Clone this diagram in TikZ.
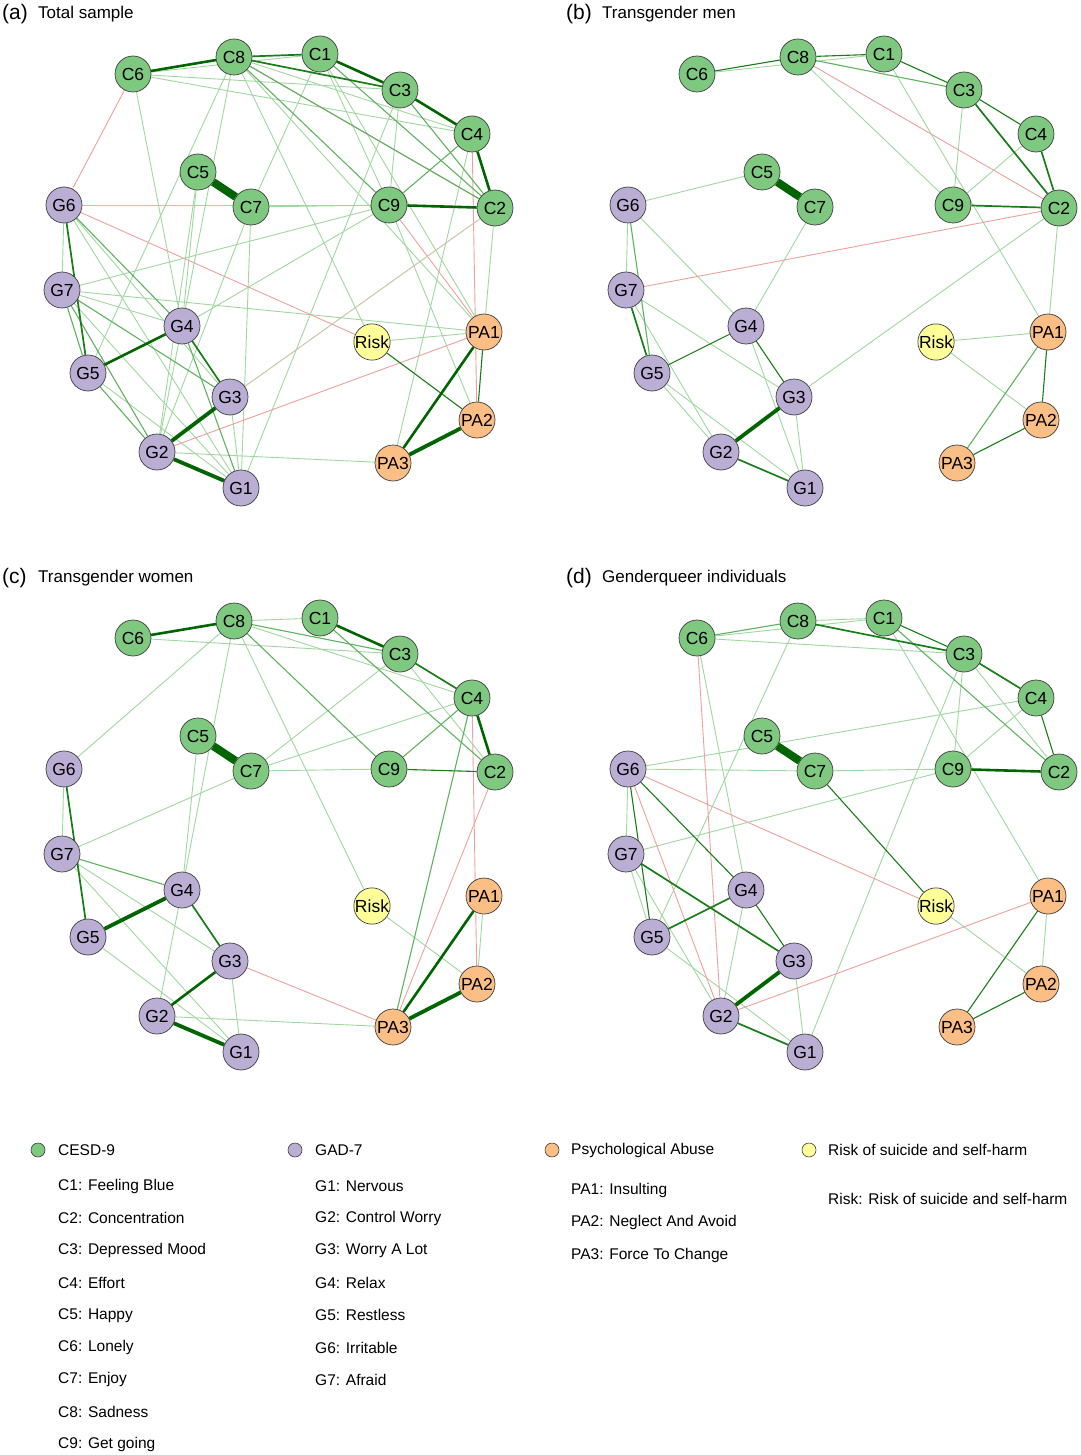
\documentclass[tikz,border=0pt]{standalone}
\usepackage{fontspec}
\setmainfont{Liberation Sans}
\usetikzlibrary{backgrounds}
\definecolor{ngreen}{RGB}{126,200,128}
\definecolor{npurple}{RGB}{187,174,212}
\definecolor{norange}{RGB}{251,190,133}
\definecolor{nyellow}{RGB}{255,255,153}
\definecolor{ebord}{RGB}{60,60,60}
\definecolor{elight}{RGB}{160,215,160}
\definecolor{emid}{RGB}{95,178,95}
\definecolor{edark}{RGB}{25,125,25}
\definecolor{edeep}{RGB}{0,100,0}
\definecolor{eneg}{RGB}{238,160,160}
\definecolor{emix}{RGB}{205,195,165}
\tikzset{
 nd/.style={circle, draw=ebord, line width=0.7pt, minimum size=36pt, inner sep=0pt, font=\fontsize{17.5}{17.5}\selectfont},
 cn/.style={nd, fill=ngreen}, gn/.style={nd, fill=npurple},
 pn/.style={nd, fill=norange}, rn/.style={nd, fill=nyellow},
 wa/.style={elight, line width=0.9pt},
 wb/.style={emid, line width=1.1pt},
 wbd/.style={edark, line width=1.1pt},
 wc/.style={edark, line width=1.7pt},
 wd/.style={edeep, line width=2.6pt},
 we/.style={edeep, line width=3.8pt},
 wf/.style={edeep, line width=8pt},
 ng/.style={eneg, line width=0.9pt},
 mx/.style={emix, line width=1pt},
 ttl/.style={anchor=west, inner sep=0pt, font=\fontsize{17}{17}\selectfont},
 tag/.style={anchor=west, inner sep=0pt, font=\fontsize{21}{21}\selectfont},
 lg/.style={anchor=west, inner sep=0pt, font=\fontsize{15.5}{15.5}\selectfont},
 ldot/.style={circle, draw=ebord, line width=0.6pt, minimum size=14pt, inner sep=0pt},
}
\newcommand\E[3]{\draw[#1] (#2) -- (#3);}
\newcommand\allnodes{%
 \node[cn] (C6) at (133,74) {C6};
 \node[cn] (C8) at (234,57) {C8};
 \node[cn] (C1) at (320,54) {C1};
 \node[cn] (C3) at (400,90) {C3};
 \node[cn] (C4) at (472,134) {C4};
 \node[cn] (C2) at (495,208) {C2};
 \node[cn] (C9) at (389,205) {C9};
 \node[cn] (C5) at (198,172) {C5};
 \node[cn] (C7) at (251,207) {C7};
 \node[gn] (G6) at (64,205) {G6};
 \node[gn] (G7) at (62,290) {G7};
 \node[gn] (G4) at (182,326) {G4};
 \node[gn] (G5) at (88,373) {G5};
 \node[gn] (G3) at (230,397) {G3};
 \node[gn] (G2) at (157,452) {G2};
 \node[gn] (G1) at (241,488) {G1};
 \node[rn] (Risk) at (372,342) {Risk};
 \node[pn] (PA1) at (484,332) {PA1};
 \node[pn] (PA2) at (477,420) {PA2};
 \node[pn] (PA3) at (393,463) {PA3};
}
\begin{document}
\begin{tikzpicture}[x=1pt,y=-1pt]
\useasboundingbox (0,0) rectangle (1080,1455);
% ---------------- panel a
\begin{scope}[name prefix=a-]
\node[tag] (tg) at (2,14) {(a)};
\node[ttl] (tt) at (38,14) {Total sample};
\allnodes
\begin{pgfonlayer}{background}
\E{wa}{C6}{C1}\E{wa}{C6}{C3}\E{wa}{C6}{C4}\E{wa}{C8}{C4}\E{wa}{C1}{C9}\E{wa}{C3}{C9}
\E{wa}{C7}{C9}\E{wa}{G6}{C9}\E{wa}{C1}{C7}\E{wa}{C6}{G4}\E{wa}{C8}{G4}\E{wa}{C8}{G5}
\E{wa}{C8}{Risk}\E{wa}{C5}{G4}\E{wa}{C5}{G2}\E{wa}{C7}{G2}\E{wa}{C7}{G1}\E{wa}{G7}{C9}
\E{wa}{G4}{C9}\E{wa}{C3}{G1}\E{wa}{G6}{G7}\E{wa}{G6}{G3}\E{wa}{G6}{G1}\E{wa}{G7}{G4}
\E{wa}{G7}{G1}\E{wa}{G7}{PA1}\E{wa}{G5}{G1}\E{wa}{G4}{G2}\E{wa}{G3}{G1}\E{wa}{G2}{PA3}
\E{wa}{Risk}{PA1}\E{wa}{C2}{PA1}\E{wa}{C9}{PA2}\E{wa}{C8}{PA1}\E{wa}{C1}{PA1}\E{wa}{C4}{PA3}
\E{ng}{C6}{G6}\E{ng}{C8}{C2}\E{ng}{G6}{Risk}\E{ng}{G2}{PA1}\E{ng}{C9}{PA1}\E{ng}{C4}{PA2}
\E{mx}{G3}{C2}
\E{wb}{C9}{C4}\E{wb}{C8}{C9}\E{wb}{C8}{C2}\E{wb}{C1}{C2}\E{wb}{C3}{C2}\E{wb}{G6}{G4}
\E{wb}{G7}{G5}\E{wb}{G7}{G3}\E{wb}{G7}{G2}\E{wb}{G5}{G2}\E{wb}{G4}{G1}\E{wbd}{Risk}{PA2}
\E{wbd}{PA1}{PA2}
\E{wc}{C8}{C3}\E{wc}{C8}{C1}\E{wc}{G6}{G5}\E{wc}{G4}{G3}
\E{wd}{C6}{C8}\E{wd}{C3}{C4}\E{wd}{C4}{C2}\E{wd}{C9}{C2}\E{wd}{G4}{G5}\E{wd}{PA1}{PA3}
\E{wd}{C1}{C3}
\E{we}{G3}{G2}\E{we}{G2}{G1}\E{we}{PA2}{PA3}
\E{wf}{C5}{C7}
\end{pgfonlayer}
\end{scope}
% ---------------- panel b
\begin{scope}[shift={(564,0)}, name prefix=b-]
\node[tag] (tg) at (2,14) {(b)};
\node[ttl] (tt) at (38,14) {Transgender men};
\allnodes
\begin{pgfonlayer}{background}
\E{wa}{C6}{C1}\E{wa}{C8}{C9}\E{wa}{C3}{C9}\E{wa}{C4}{C9}\E{wa}{C1}{PA1}\E{wa}{C2}{PA1}
\E{wa}{C2}{G3}\E{wa}{C5}{G6}\E{wa}{C7}{G4}\E{wa}{G6}{G7}\E{wa}{G6}{G4}\E{wa}{G7}{G2}
\E{wa}{G7}{G3}\E{wa}{G5}{G2}\E{wa}{G5}{G1}\E{wa}{G4}{G1}\E{wa}{G3}{G1}\E{wa}{Risk}{PA1}
\E{wa}{Risk}{PA2}
\E{ng}{C8}{C2}\E{ng}{C2}{G7}
\E{wb}{C8}{C3}\E{wb}{PA1}{PA3}\E{wb}{G6}{G5}
\E{wbd}{C6}{C8}\E{wbd}{C8}{C1}\E{wbd}{C1}{C3}\E{wbd}{C3}{C4}\E{wbd}{G5}{G4}\E{wbd}{G4}{G3}
\E{wbd}{PA2}{PA3}\E{wbd}{PA1}{PA2}
\E{wc}{C3}{C2}\E{wc}{C4}{C2}\E{wc}{C9}{C2}\E{wc}{G7}{G5}\E{wc}{G2}{G1}
\E{we}{G3}{G2}
\E{wf}{C5}{C7}
\end{pgfonlayer}
\end{scope}
% ---------------- panel c
\begin{scope}[shift={(0,564)}, name prefix=c-]
\node[tag] (tg) at (2,14) {(c)};
\node[ttl] (tt) at (38,14) {Transgender women};
\allnodes
\begin{pgfonlayer}{background}
\E{wa}{C6}{C3}\E{wa}{C8}{C1}\E{wa}{C8}{C4}\E{wa}{C3}{C2}\E{wa}{C3}{C7}\E{wa}{C4}{C7}
\E{wa}{C7}{C9}\E{wa}{C8}{Risk}\E{wa}{C8}{G6}\E{wa}{C8}{G4}\E{wa}{C5}{G4}
\E{wa}{C7}{G7}\E{wa}{G6}{G7}\E{wa}{G7}{G3}\E{wa}{G7}{G1}\E{wa}{G5}{G1}\E{wa}{G4}{G2}
\E{wa}{G3}{G1}\E{wa}{G2}{PA3}\E{wa}{Risk}{PA2}\E{wa}{PA1}{PA2}
\E{ng}{C4}{PA2}\E{ng}{C2}{PA3}\E{ng}{G3}{PA3}
\E{wb}{C8}{C3}\E{wb}{C8}{C9}\E{wb}{G7}{G4}\E{wb}{C4}{PA3}\E{wb}{C1}{C2}\E{wb}{C4}{C9}
\E{wbd}{C9}{C2}
\E{wc}{C3}{C4}\E{wc}{G6}{G5}\E{wc}{G4}{G3}
\E{wd}{C6}{C8}\E{wd}{C4}{C2}\E{wd}{G3}{G2}\E{wd}{C1}{C3}\E{wd}{PA1}{PA3}
\E{we}{G5}{G4}\E{we}{G2}{G1}\E{we}{PA2}{PA3}
\E{wf}{C5}{C7}
\end{pgfonlayer}
\end{scope}
% ---------------- panel d
\begin{scope}[shift={(564,564)}, name prefix=d-]
\node[tag] (tg) at (2,14) {(d)};
\node[ttl] (tt) at (38,14) {Genderqueer individuals};
\allnodes
\begin{pgfonlayer}{background}
\E{wa}{C6}{C1}\E{wa}{C6}{C3}\E{wa}{C6}{G4}\E{wa}{C8}{C1}\E{wa}{C8}{G5}\E{wa}{C1}{PA1}
\E{wa}{C3}{C2}\E{wa}{C3}{C9}\E{wa}{C3}{G1}\E{wa}{C4}{C9}\E{wa}{C4}{G6}\E{wa}{C9}{G7}
\E{wa}{C7}{C9}\E{wa}{G6}{C7}\E{wa}{G6}{G7}\E{wa}{G7}{G5}\E{wa}{G7}{G2}\E{wa}{G5}{G1}
\E{wa}{G4}{G2}\E{wa}{G3}{G1}\E{wa}{Risk}{PA2}\E{wa}{PA1}{PA2}
\E{ng}{C6}{G2}\E{ng}{G6}{G2}\E{ng}{G6}{Risk}\E{ng}{G2}{PA1}
\E{wb}{C6}{C8}\E{wb}{C1}{C2}
\E{wbd}{C1}{C3}\E{wbd}{C4}{C2}\E{wbd}{C7}{Risk}\E{wbd}{G6}{G5}\E{wbd}{G6}{G4}
\E{wbd}{G4}{G3}\E{wbd}{PA1}{PA3}\E{wbd}{PA2}{PA3}
\E{wc}{C8}{C3}\E{wc}{C3}{C4}\E{wc}{G7}{G3}\E{wc}{G5}{G4}\E{wc}{G2}{G1}
\E{wd}{C9}{C2}
\E{we}{G3}{G2}
\E{wf}{C5}{C7}
\end{pgfonlayer}
\end{scope}
% ---------------- legend
\node[ldot, fill=ngreen] (dC) at (38,1150) {};
\node[lg] (hC) at (58,1150) {CESD-9};
\node[ldot, fill=npurple] (dG) at (295,1150) {};
\node[lg] (hG) at (315,1150) {GAD-7};
\node[ldot, fill=norange] (dP) at (552,1150) {};
\node[lg] (hP) at (571,1150) {Psychological Abuse};
\node[ldot, fill=nyellow] (dR) at (809,1150) {};
\node[lg] (hR) at (828,1150) {Risk of suicide and self-harm};
\node[lg] (l1) at (58,1186) {C1: Feeling Blue};
\node[lg] (l2) at (58,1218.3) {C2: Concentration};
\node[lg] (l3) at (58,1250.6) {C3: Depressed Mood};
\node[lg] (l4) at (58,1282.9) {C4: Effort};
\node[lg] (l5) at (58,1315.2) {C5: Happy};
\node[lg] (l6) at (58,1347.5) {C6: Lonely};
\node[lg] (l7) at (58,1379.8) {C7: Enjoy};
\node[lg] (l8) at (58,1412.1) {C8: Sadness};
\node[lg] (l9) at (58,1444.4) {C9: Get going};
\node[lg] (m1) at (315,1186) {G1: Nervous};
\node[lg] (m2) at (315,1218.3) {G2: Control Worry};
\node[lg] (m3) at (315,1250.6) {G3: Worry A Lot};
\node[lg] (m4) at (315,1282.9) {G4: Relax};
\node[lg] (m5) at (315,1315.2) {G5: Restless};
\node[lg] (m6) at (315,1347.5) {G6: Irritable};
\node[lg] (m7) at (315,1379.8) {G7: Afraid};
\node[lg] (p1) at (571,1190) {PA1: Insulting};
\node[lg] (p2) at (571,1222.5) {PA2: Neglect And Avoid};
\node[lg] (p3) at (571,1255) {PA3: Force To Change};
\node[lg] (r1) at (828,1199) {Risk: Risk of suicide and self-harm};
\end{tikzpicture}
\end{document}
